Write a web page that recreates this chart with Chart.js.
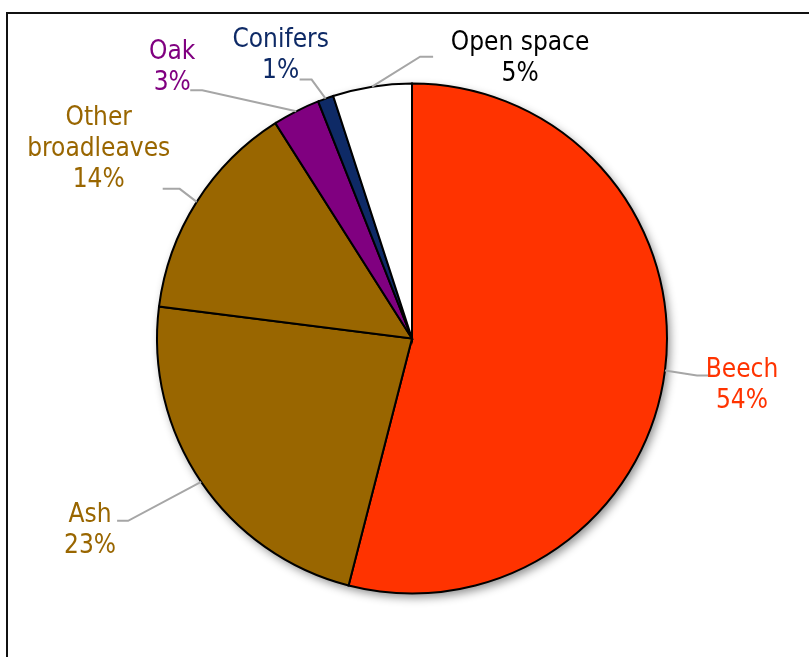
<!DOCTYPE html>
<html>
<head>
<meta charset="utf-8">
<script src="https://cdn.jsdelivr.net/npm/chart.js@4"></script>
<style>
  body { margin: 0; background: #fff; }
  canvas { display: block; }
</style>
</head>
<body>
<canvas id="canvas" width="809" height="657"></canvas>
<script>
// woodland composition, shares in percent (clockwise from 12 o'clock)
let categories = ['Beech', 'Ash', 'Other broadleaves', 'Oak', 'Conifers', 'Open space'];
let shares = [54, 23, 14, 3, 1, 5];
// the text of each label, one entry per line
let labelLines = [['Beech'], ['Ash'], ['Other', 'broadleaves'], ['Oak'], ['Conifers'], ['Open space']];

// colours
let sliceColors = ['#FF3300', '#996600', '#996600', '#800080', '#0E2A66', '#FFFFFF'];
let textColors = ['#FF3300', '#996600', '#996600', '#800080', '#0E2A66', '#000000'];

// where each callout goes, measured from the point where the leader
// leaves the slice: [knee, end of leader, centre of the text block]
let callouts = [
  [[32, 5], [43, 5], [77, 15]],
  [[-73, 39], [-84, 39], [-111, 49]],
  [[-17, -13], [-34, -13], [-98, -53]],
  [[-94, -21], [-106, -21], [-124, -44]],
  [[-14, -19], [-26, -19], [-45, -43]],
  [[48, -30], [61, -30], [148, -28]]
];

let fontFamily = '"DejaVu Sans Condensed", "DejaVu Sans", sans-serif';
let fontSize = 26;
let lineGap = 31;

// draws the frame, the pie's shadow and the labels with their leaders
let calloutPlugin = {
  id: 'callouts',
  beforeDraw(chart) {
    let ctx = chart.ctx;
    ctx.save();
    ctx.strokeStyle = '#111';
    ctx.lineWidth = 2;
    ctx.beginPath();
    ctx.moveTo(7, 657);
    ctx.lineTo(7, 13);
    ctx.lineTo(809, 13);
    ctx.stroke();
    ctx.restore();
  },
  beforeDatasetsDraw(chart) {
    let arc = chart.getDatasetMeta(0).data[0];
    let ctx = chart.ctx;
    ctx.save();
    ctx.shadowColor = 'rgba(0,0,0,0.45)';
    ctx.shadowBlur = 10;
    ctx.shadowOffsetX = 3;
    ctx.shadowOffsetY = 4;
    ctx.beginPath();
    ctx.arc(arc.x, arc.y, arc.outerRadius, 0, Math.PI * 2);
    ctx.fillStyle = '#fff';
    ctx.fill();
    ctx.restore();
  },
  afterDatasetsDraw(chart) {
    let ctx = chart.ctx;
    let arcs = chart.getDatasetMeta(0).data;
    arcs.forEach(function(arc, i) {
      let mid = (arc.startAngle + arc.endAngle) / 2;
      let ex = arc.x + Math.cos(mid) * arc.outerRadius;
      let ey = arc.y + Math.sin(mid) * arc.outerRadius;
      let c = callouts[i];

      // leader line
      ctx.save();
      ctx.strokeStyle = '#A6A6A6';
      ctx.lineWidth = 2;
      ctx.beginPath();
      ctx.moveTo(ex, ey);
      ctx.lineTo(ex + c[0][0], ey + c[0][1]);
      ctx.lineTo(ex + c[1][0], ey + c[1][1]);
      ctx.stroke();

      // label text: category lines then the percentage
      let lines = labelLines[i].concat([shares[i] + '%']);
      let cx = ex + c[2][0];
      let cy = ey + c[2][1] - (lines.length - 1) * lineGap / 2;
      ctx.fillStyle = textColors[i];
      ctx.font = fontSize + 'px ' + fontFamily;
      ctx.textAlign = 'center';
      ctx.textBaseline = 'middle';
      lines.forEach(function(t, k) {
        ctx.fillText(t, cx, cy + k * lineGap);
      });
      ctx.restore();
    });
  }
};

let options = {
  type: 'pie',
  data: {
    labels: categories,
    datasets: [{
      data: shares,
      backgroundColor: sliceColors,
      borderColor: '#000000',
      borderWidth: 2,
      borderJoinStyle: 'miter'
    }]
  },
  options: {
    responsive: false,
    animation: false,
    layout: {
      padding: { left: 156, right: 141, top: 82, bottom: 62 }
    },
    plugins: {
      legend: { display: false },
      tooltip: { enabled: false }
    }
  },
  plugins: [calloutPlugin]
};

let chart = new Chart(document.getElementById('canvas'), options);
</script>
</body>
</html>
